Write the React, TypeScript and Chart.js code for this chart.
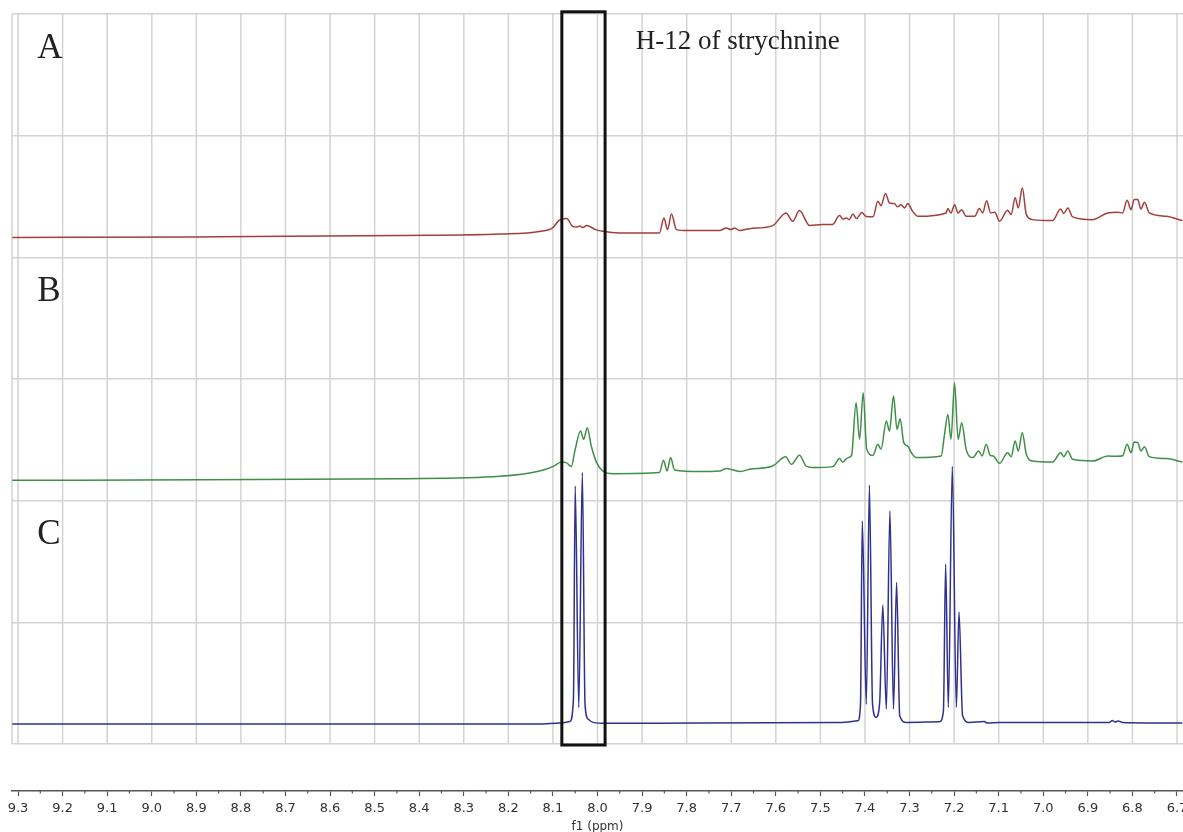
import { useEffect, useRef } from 'react';
import { Chart, registerables } from 'chart.js';

Chart.register(...registerables);

// ---------- data (ppm, intensity in % of one panel height above panel floor) ----------
const xTickValues = [9.3, 9.2, 9.1, 9.0, 8.9, 8.8, 8.7, 8.6, 8.5, 8.4, 8.3, 8.2, 8.1, 8.0,
  7.9, 7.8, 7.7, 7.6, 7.5, 7.4, 7.3, 7.2, 7.1, 7.0, 6.9, 6.8, 6.7];

const panelNames = ['A', 'B', 'C'];
const annotationText = 'H-12 of strychnine';
const highlightRange = [8.080, 7.983]; // ppm bounds of the H-12 box
const axisTitle = 'f1 (ppm)';

// Trace A (red)
const traceA: [number, number][] = [
  [9.313, 16.3], [8.892, 16.8], [8.443, 17.9], [8.219, 19.1], [8.130, 21.2], [8.100, 24.5],
  [8.087, 30.2], [8.080, 31.4], [8.069, 31.9], [8.056, 25.5], [8.047, 24.9], [8.040, 25.7],
  [8.032, 24.5], [8.025, 26.1], [8.004, 22.8], [7.988, 21.4], [7.950, 20.1], [7.861, 20.1],
  [7.851, 32.4], [7.843, 22.8], [7.834, 35.7], [7.823, 22.8], [7.800, 22.0], [7.726, 22.0],
  [7.711, 24.2], [7.701, 22.8], [7.692, 24.2], [7.681, 22.0], [7.659, 23.6], [7.607, 26.1],
  [7.577, 36.5], [7.562, 29.6], [7.547, 38.4], [7.524, 26.1], [7.495, 26.9], [7.473, 26.9],
  [7.457, 34.3], [7.449, 31.4], [7.442, 32.4], [7.435, 31.0], [7.427, 35.6], [7.419, 31.9],
  [7.407, 36.8], [7.397, 33.5], [7.382, 33.3], [7.371, 46.1], [7.364, 42.5], [7.354, 52.4],
  [7.345, 44.7], [7.334, 44.2], [7.327, 41.5], [7.319, 43.3], [7.311, 40.6], [7.304, 44.2],
  [7.293, 37.8], [7.281, 33.7], [7.218, 36.5], [7.214, 40.1], [7.207, 36.5], [7.199, 43.3],
  [7.191, 36.5], [7.183, 39.2], [7.173, 33.7], [7.154, 33.7], [7.143, 40.1], [7.136, 36.5],
  [7.127, 46.6], [7.118, 36.5], [7.109, 37.0], [7.098, 29.6], [7.080, 38.7], [7.072, 35.1],
  [7.063, 48.9], [7.056, 40.6], [7.047, 57.1], [7.038, 35.1], [7.024, 31.0], [6.979, 30.2],
  [6.961, 39.8], [6.954, 36.0], [6.945, 40.6], [6.934, 33.3], [6.889, 31.0], [6.855, 36.5],
  [6.833, 37.0], [6.822, 36.5], [6.812, 46.9], [6.803, 39.2], [6.796, 47.5], [6.788, 47.5],
  [6.781, 39.8], [6.773, 45.2], [6.762, 36.5], [6.724, 33.7], [6.688, 30.2],
];

// Trace B (green)
const traceB: [number, number][] = [
  [9.313, 16.7], [8.892, 17.2], [8.443, 18.0], [8.219, 20.0], [8.130, 24.4], [8.100, 28.0],
  [8.081, 31.8], [8.070, 31.3], [8.059, 28.0], [8.050, 42.2], [8.038, 57.2], [8.031, 50.4],
  [8.023, 60.0], [8.014, 44.9], [8.002, 31.3], [7.988, 24.4], [7.965, 22.2], [7.861, 23.1],
  [7.852, 33.2], [7.844, 24.4], [7.836, 35.4], [7.827, 25.2], [7.771, 23.9], [7.726, 24.4],
  [7.711, 26.4], [7.697, 25.4], [7.681, 23.9], [7.659, 25.8], [7.607, 28.5], [7.578, 36.2],
  [7.565, 29.9], [7.547, 37.3], [7.532, 28.5], [7.517, 27.2], [7.472, 28.0], [7.457, 34.6],
  [7.450, 31.8], [7.438, 35.4], [7.430, 37.3], [7.420, 80.5], [7.412, 50.4], [7.404, 88.8],
  [7.396, 42.2], [7.382, 37.3], [7.371, 46.3], [7.364, 42.2], [7.352, 65.4], [7.345, 57.2],
  [7.336, 86.0], [7.328, 58.6], [7.321, 67.4], [7.313, 47.7], [7.304, 44.9], [7.296, 39.5],
  [7.285, 35.4], [7.229, 36.7], [7.222, 53.1], [7.214, 70.9], [7.207, 50.4], [7.199, 97.0],
  [7.191, 50.4], [7.183, 64.1], [7.173, 42.2], [7.158, 35.4], [7.145, 40.8], [7.137, 36.7],
  [7.128, 46.3], [7.119, 37.3], [7.112, 36.7], [7.098, 30.7], [7.080, 39.5], [7.072, 36.2],
  [7.063, 49.0], [7.056, 40.8], [7.047, 55.9], [7.038, 38.1], [7.024, 32.6], [6.979, 31.8],
  [6.961, 39.5], [6.954, 36.2], [6.945, 40.8], [6.934, 34.0], [6.889, 32.6], [6.855, 36.7],
  [6.833, 36.5], [6.822, 36.9], [6.812, 46.3], [6.803, 39.5], [6.796, 48.2], [6.788, 47.7],
  [6.781, 40.8], [6.773, 44.4], [6.762, 36.2], [6.724, 34.6], [6.688, 31.8],
];

// Trace C (blue, reference)
const traceC: [number, number][] = [
  [9.313, 16.4], [8.130, 16.4], [8.085, 17.2], [8.062, 18.5], [8.054, 36.9], [8.050, 212.1],
  [8.042, 30.1], [8.034, 223.1], [8.028, 32.8], [8.021, 20.5], [8.010, 17.8], [7.980, 17.0],
  [7.771, 17.2], [7.457, 17.8], [7.416, 19.1], [7.410, 32.8], [7.406, 183.3], [7.397, 32.8],
  [7.390, 212.6], [7.383, 32.8], [7.375, 21.9], [7.367, 34.2], [7.360, 114.1], [7.352, 28.7],
  [7.344, 191.5], [7.336, 28.7], [7.329, 132.8], [7.322, 23.2], [7.307, 17.8], [7.233, 18.3],
  [7.224, 27.1], [7.219, 147.8], [7.213, 30.1], [7.204, 228.2], [7.195, 30.1], [7.189, 108.6],
  [7.181, 23.2], [7.166, 17.8], [7.132, 18.5], [7.126, 17.2], [7.098, 17.7], [6.852, 17.7],
  [6.845, 19.3], [6.839, 18.1], [6.832, 19.0], [6.822, 17.7], [6.688, 17.2],
];

// ---------- layout constants ----------
const panelOffsets = [4, 2, 0];
const traceColors = ['#a23f3b', '#3f8f46', '#2f318e'];
const X_MIN = 6.6865;
const X_MAX = 9.3135;
const Y_MIN = -0.386;
const Y_MAX = 6;
const CANVAS_W = 1200;
const CANVAS_H = 836;

const toPoints = (trace: [number, number][], offset: number) =>
  trace.map(([ppm, v]) => ({ x: ppm, y: offset + v / 100 }));

const decorPlugin = {
  id: 'nmrDecor',
  beforeDatasetsDraw(chart: any) {
    const { ctx, scales } = chart;
    const x = scales.x;
    const y = scales.y;
    const top = y.getPixelForValue(Y_MAX);
    const bottom = y.getPixelForValue(0);
    ctx.save();
    ctx.strokeStyle = '#d3d3d3';
    ctx.lineWidth = 1.5;
    const vals = [X_MAX, ...xTickValues];
    vals.forEach((v) => {
      const px = x.getPixelForValue(v);
      ctx.beginPath();
      ctx.moveTo(px, top);
      ctx.lineTo(px, bottom);
      ctx.stroke();
    });
    ctx.restore();
  },
  afterDatasetsDraw(chart: any) {
    const { ctx, scales } = chart;
    const x = scales.x;
    const y = scales.y;
    ctx.save();
    // highlight box
    const l = x.getPixelForValue(highlightRange[0]);
    const r = x.getPixelForValue(highlightRange[1]);
    const t = y.getPixelForValue(6.018);
    const b = y.getPixelForValue(-0.008);
    ctx.strokeStyle = '#111';
    ctx.lineWidth = 3;
    ctx.strokeRect(l, t, r - l, b - t);
    // annotation
    ctx.fillStyle = '#222';
    ctx.textAlign = 'left';
    ctx.textBaseline = 'alphabetic';
    ctx.font = '27px "Liberation Serif", "DejaVu Serif", serif';
    ctx.fillText(annotationText, x.getPixelForValue(7.914), y.getPixelForValue(5.71));
    // panel labels
    ctx.font = '35px "Liberation Serif", "DejaVu Serif", serif';
    panelNames.forEach((name, i) => {
      ctx.fillText(name, x.getPixelForValue(9.257), y.getPixelForValue(panelOffsets[i] + 1.64));
    });
    ctx.restore();
  },
  afterDraw(chart: any) {
    const { ctx, scales } = chart;
    const x = scales.x;
    const axisY = chart.chartArea.bottom;
    ctx.save();
    ctx.strokeStyle = '#555';
    ctx.lineWidth = 1.2;
    for (let i = 0; i < xTickValues.length - 1; i++) {
      const mid = (xTickValues[i] + xTickValues[i + 1]) / 2;
      const px = x.getPixelForValue(mid);
      ctx.beginPath();
      ctx.moveTo(px, axisY);
      ctx.lineTo(px, axisY + 2.5);
      ctx.stroke();
    }
    ctx.restore();
  },
};

export default function App() {
  const canvasRef = useRef<HTMLCanvasElement | null>(null);

  useEffect(() => {
    document.body.style.margin = '0';
    document.body.style.overflow = 'hidden';
    document.documentElement.style.overflow = 'hidden';
    const canvas = canvasRef.current;
    if (!canvas) return;
    Chart.defaults.font.family = '"DejaVu Sans", Verdana, sans-serif';

    const traces = [traceA, traceB, traceC];
    const chart = new Chart(canvas, {
      type: 'line',
      data: {
        datasets: traces.map((tr, i) => ({
          label: panelNames[i],
          data: toPoints(tr, panelOffsets[i]),
          borderColor: traceColors[i],
          borderWidth: 1.5,
          pointRadius: 0,
          fill: false,
          cubicInterpolationMode: 'monotone' as const,
        })),
      },
      options: {
        animation: false,
        responsive: false,
        layout: { padding: { left: 12, right: 17, top: 14, bottom: 0 } },
        plugins: {
          legend: { display: false },
          tooltip: { enabled: false },
        },
        scales: {
          x: {
            type: 'linear',
            reverse: true,
            min: X_MIN,
            max: X_MAX,
            afterBuildTicks: (scale: any) => {
              scale.ticks = xTickValues.map((v) => ({ value: v }));
            },
            ticks: {
              autoSkip: false,
              maxRotation: 0,
              minRotation: 0,
              padding: 6,
              color: '#333',
              font: { family: '"DejaVu Sans", Verdana, sans-serif', size: 13, lineHeight: 1 },
              callback: (v: any) => Number(v).toFixed(1),
            },
            grid: {
              drawOnChartArea: false,
              drawTicks: true,
              tickLength: 5,
              tickColor: '#555',
              tickWidth: 1.2,
              color: '#555',
            },
            border: { display: true, color: '#555', width: 1.5 },
            title: {
              display: true,
              text: axisTitle,
              color: '#333',
              font: { family: '"DejaVu Sans", Verdana, sans-serif', size: 12, lineHeight: 1 },
              padding: { top: 0, bottom: 3 },
            },
          },
          y: {
            type: 'linear',
            min: Y_MIN,
            max: Y_MAX,
            afterBuildTicks: (scale: any) => {
              scale.ticks = [0, 1, 2, 3, 4, 5, 6].map((v) => ({ value: v }));
            },
            ticks: { display: false },
            grid: { color: '#d3d3d3', lineWidth: 1.5, drawTicks: false },
            border: { display: false },
          },
        },
      },
      plugins: [decorPlugin],
    });
    return () => chart.destroy();
  }, []);

  return (
    <div style={{ width: CANVAS_W, height: CANVAS_H }}>
      <canvas ref={canvasRef} width={CANVAS_W} height={CANVAS_H} style={{ display: 'block' }} />
    </div>
  );
}
